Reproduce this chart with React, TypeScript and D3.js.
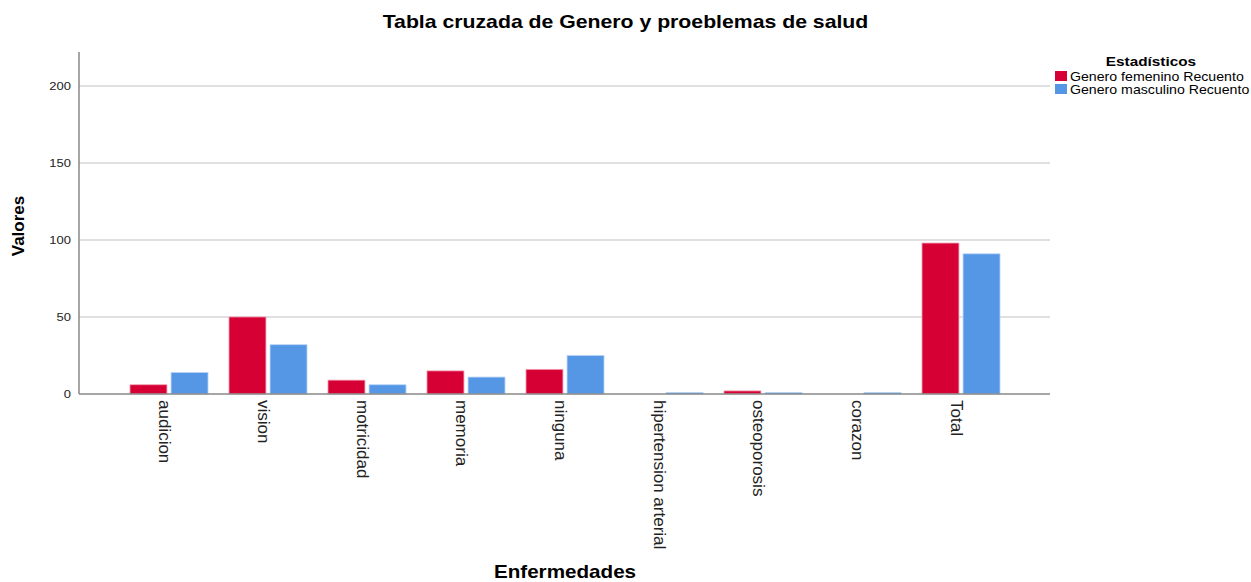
import React from "react";
import * as d3 from "d3";

const categories = ["audicion", "vision", "motricidad", "memoria", "ninguna", "hipertension arterial", "osteoporosis", "corazon", "Total"];
const femenino = [6, 50, 9, 15, 16, 0, 2, 0, 98];
const masculino = [14, 32, 6, 11, 25, 1, 1, 1, 91];
const seriesNames = ["Genero femenino Recuento", "Genero masculino Recuento"];
const seriesColors = ["#d70034", "#5597e5"];
const seriesStroke = ["#f2a0b4", "#b9d5f7"];
const yTicks = [0, 50, 100, 150, 200];

const W = 1251, H = 582;
const FONT = "'Liberation Sans', Arial, sans-serif";
const SX = 1.18;

function HText({ x, y, size, bold, anchor, children, fill = "#000" }: any) {
  return (
    <g transform={`translate(${x},${y}) scale(${SX},1)`}>
      <text x={0} y={0} fontSize={size} fontWeight={bold ? "bold" : "normal"} textAnchor={anchor || "start"} fontFamily={FONT} fill={fill}>
        {children}
      </text>
    </g>
  );
}

export default function App() {
  const axisLeft = 79, axisRight = 1050, axisTop = 52, axisBottom = 394;
  const y = d3.scaleLinear().domain([0, 222]).range([axisBottom, axisTop]);
  const x0 = d3.scaleBand<string>().domain(categories).range([119.5, 1010.5]).paddingInner(0.212).paddingOuter(0.106);
  const x1 = d3.scaleBand<string>().domain(seriesNames).range([0, x0.bandwidth()]).paddingInner(0.1);
  const series = [femenino, masculino];

  return (
    <svg width={W} height={H} style={{ position: "fixed", left: 0, top: 0, background: "#fff" }}>
      <rect width={W} height={H} fill="#fff" />
      <HText x={625.5} y={28} size={18} bold anchor="middle">Tabla cruzada de Genero y proeblemas de salud</HText>

      {yTicks.map((t) => (
        <g key={t}>
          {t > 0 && <line x1={axisLeft} x2={axisRight} y1={y(t)} y2={y(t)} stroke="#d6d6d6" strokeWidth={1.5} />}
          <HText x={71} y={y(t) + 4} size={11} anchor="end" fill="#222">{t}</HText>
        </g>
      ))}

      {categories.map((c, i) => (
        <g key={c}>
          {series.map((s, j) => {
            const v = s[i];
            if (v <= 0) return null;
            const top = y(v);
            return (
              <rect key={j} x={(x0(c) as number) + (x1(seriesNames[j]) as number)} y={top} width={x1.bandwidth()} height={axisBottom - top}
                fill={seriesColors[j]} stroke={seriesStroke[j]} strokeWidth={0.8} />
            );
          })}
          <text transform={`translate(${(x0(c) as number) + x0.bandwidth() / 2 - 5},400) rotate(90)`} fontSize={17} fontFamily={FONT}
            dominantBaseline="central" fill="#222">{c}</text>
        </g>
      ))}

      <line x1={axisLeft} x2={axisLeft} y1={axisTop} y2={axisBottom} stroke="#888" strokeWidth={1.5} />
      <line x1={axisLeft} x2={axisRight} y1={axisBottom} y2={axisBottom} stroke="#888" strokeWidth={1.5} />

      <text transform="translate(24,226) rotate(-90)" fontSize={17} fontWeight="bold" fontFamily={FONT} textAnchor="middle">Valores</text>
      <HText x={565} y={578} size={17.5} bold anchor="middle">Enfermedades</HText>

      <HText x={1151} y={66} size={13} bold anchor="middle">Estadísticos</HText>
      {seriesNames.map((n, j) => (
        <g key={n}>
          <rect x={1055} y={71 + j * 13} width={12} height={10} fill={seriesColors[j]} />
          <HText x={1070} y={81 + j * 13} size={12}>{n}</HText>
        </g>
      ))}
    </svg>
  );
}
